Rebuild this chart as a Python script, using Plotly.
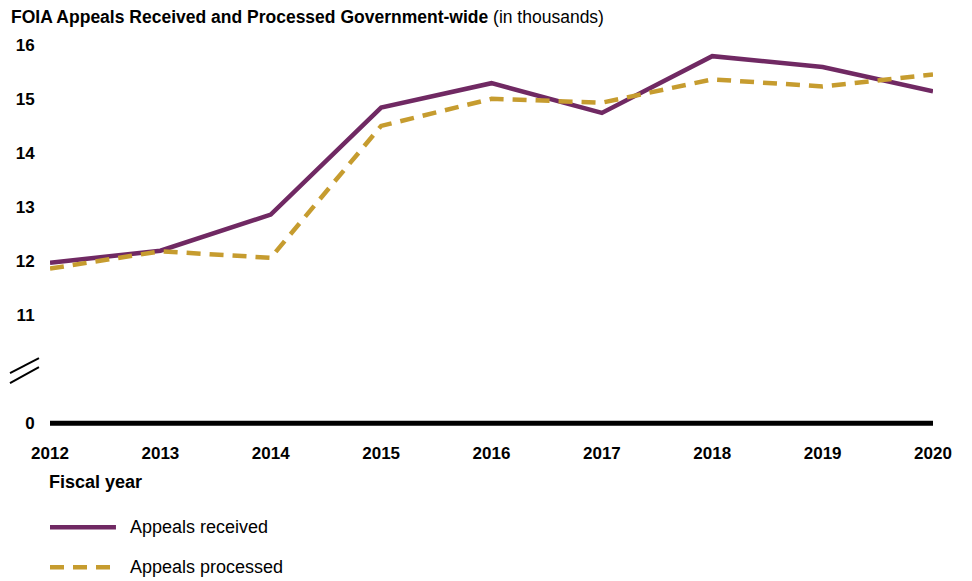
import plotly.graph_objects as go

# FOIA appeals, in thousands
years = [2012, 2013, 2014, 2015, 2016, 2017, 2018, 2019, 2020]
received = [11.97, 12.19, 12.86, 14.84, 15.29, 14.74, 15.79, 15.59, 15.14]
processed = [11.86, 12.18, 12.06, 14.50, 15.00, 14.93, 15.36, 15.23, 15.45]

# broken axis: the "0" label sits where 9 would be
ytick_vals = [9, 11, 12, 13, 14, 15, 16]
ytick_text = ["0", "11", "12", "13", "14", "15", "16"]

purple = "#702963"
gold = "#C69C2F"
font = "Arial, Liberation Sans, sans-serif"

fig = go.Figure()
fig.add_trace(go.Scatter(x=years, y=received, mode="lines", name="Appeals received",
                         line=dict(color=purple, width=4.5)))
fig.add_trace(go.Scatter(x=years, y=processed, mode="lines", name="Appeals processed",
                         line=dict(color=gold, width=4.5, dash="14px,9px")))

# thick baseline
fig.add_shape(type="line", x0=years[0], x1=years[-1], y0=9, y1=9,
              line=dict(color="black", width=5))

# axis break marks
for ya, yb in [(0.127, 0.167), (0.152, 0.1895)]:
    fig.add_shape(type="line", xref="paper", yref="paper",
                  x0=-0.0453, x1=-0.0125, y0=ya, y1=yb,
                  line=dict(color="black", width=2))

# title
fig.add_annotation(xref="paper", yref="paper", x=-0.046, y=1.042, xanchor="left", yanchor="middle",
                   text="<b>FOIA Appeals Received and Processed Government-wide</b> (in thousands)",
                   showarrow=False, font=dict(size=17.5, color="black", family=font))

# x axis title
fig.add_annotation(xref="paper", yref="paper", x=-0.003, y=-0.1205, xanchor="left", yanchor="middle",
                   text="<b>Fiscal year</b>", showarrow=False,
                   font=dict(size=18, color="black", family=font))

# manual legend
legend_rows = [("Appeals received", purple, "solid", -0.233),
               ("Appeals processed", gold, "14px,9px", -0.333)]
for label, col, dash, ypos in legend_rows:
    fig.add_shape(type="line", xref="paper", yref="paper", x0=0, x1=0.0747, y0=ypos, y1=ypos,
                  line=dict(color=col, width=4.5, dash=dash))
    fig.add_annotation(xref="paper", yref="paper", x=0.088, y=ypos, xanchor="left", yanchor="middle",
                       text=label, showarrow=False,
                       font=dict(size=18, color="black", family=font))

fig.update_layout(
    width=964, height=573,
    margin=dict(l=42, r=39, t=26, b=147),
    paper_bgcolor="white", plot_bgcolor="white",
    showlegend=False,
    font=dict(family=font, color="black"),
    xaxis=dict(range=[2012, 2020], tickvals=years, ticktext=[f"<b>{y}</b>" for y in years],
               showgrid=False, zeroline=False, showline=False, automargin=False,
               ticks="outside", ticklen=4, tickcolor="rgba(0,0,0,0)",
               tickfont=dict(size=17, family=font, color="black")),
    yaxis=dict(range=[8.8, 16.2], tickvals=ytick_vals, ticktext=[f"<b>{t}</b>" for t in ytick_text],
               showgrid=False, zeroline=False, showline=False, automargin=False,
               ticks="outside", ticklen=11, tickcolor="rgba(0,0,0,0)",
               tickfont=dict(size=17, family=font, color="black")),
)

fig.write_html("out.html")
